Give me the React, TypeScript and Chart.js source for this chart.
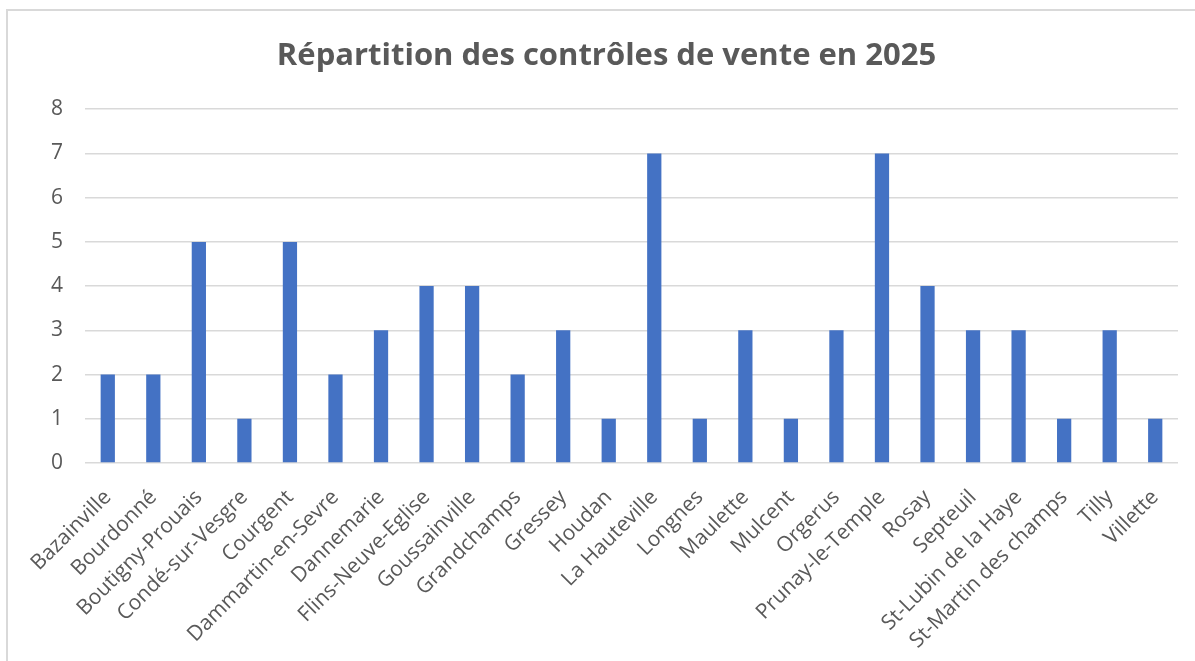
import React, { useEffect, useRef } from "react";
import { Chart, registerables } from "chart.js";

Chart.register(...registerables);

const communes = [
  "Bazainville",
  "Bourdonné",
  "Boutigny-Prouais",
  "Condé-sur-Vesgre",
  "Courgent",
  "Dammartin-en-Sevre",
  "Dannemarie",
  "Flins-Neuve-Eglise",
  "Goussainville",
  "Grandchamps",
  "Gressey",
  "Houdan",
  "La Hauteville",
  "Longnes",
  "Maulette",
  "Mulcent",
  "Orgerus",
  "Prunay-le-Temple",
  "Rosay",
  "Septeuil",
  "St-Lubin de la Haye",
  "St-Martin des champs",
  "Tilly",
  "Villette",
];

const controles = [2, 2, 5, 1, 5, 2, 3, 4, 4, 2, 3, 1, 7, 1, 3, 1, 3, 7, 4, 3, 3, 1, 3, 1];

const yMin = 0;
const yMax = 8;
const yStep = 1;

const titleText = "Répartition des contrôles de vente en 2025";

export default function App() {
  const ref = useRef<HTMLCanvasElement | null>(null);

  useEffect(() => {
    if (!ref.current) return;
    const chart = new Chart(ref.current, {
      type: "bar",
      data: {
        labels: communes,
        datasets: [
          {
            data: controles,
            backgroundColor: "#4472C4",
            borderWidth: 0,
            barPercentage: 0.313,
            categoryPercentage: 1,
          },
        ],
      },
      options: {
        responsive: false,
        animation: false,
        layout: { padding: { left: 35, right: 17, top: 0, bottom: 0 } },
        plugins: {
          legend: { display: false },
          tooltip: { enabled: false },
          title: {
            display: true,
            text: titleText,
            color: "#595959",
            font: { family: "Open Sans", size: 31, weight: "bold" },
            padding: { top: 38, bottom: 34 },
          },
        },
        scales: {
          x: {
            grid: { display: false },
            border: { display: false },
            ticks: {
              color: "#595959",
              font: { family: "Open Sans", size: 21 },
              minRotation: 45,
              maxRotation: 45,
              padding: 14,
              autoSkip: false,
            },
            afterFit: (scale: any) => {
              scale.height = 198;
            },
          },
          y: {
            min: yMin,
            max: yMax,
            grid: { color: "#d9d9d9", lineWidth: 1.5, drawTicks: false },
            border: { display: false },
            ticks: {
              stepSize: yStep,
              color: "#595959",
              font: { family: "Open Sans", size: 21 },
              padding: 22,
            },
            afterFit: (scale: any) => {
              scale.width = 50;
            },
          },
        },
      },
    });
    return () => chart.destroy();
  }, []);

  return (
    <div>
      <div
        style={{
          position: "fixed",
          left: 6,
          top: 9,
          width: 1400,
          height: 900,
          borderTop: "2px solid #d9d9d9",
          borderLeft: "2px solid #d9d9d9",
          boxSizing: "border-box",
        }}
      />
      <canvas
        ref={ref}
        width={1195}
        height={661}
        style={{ position: "fixed", left: 0, top: 0, width: 1195, height: 661 }}
      />
    </div>
  );
}
